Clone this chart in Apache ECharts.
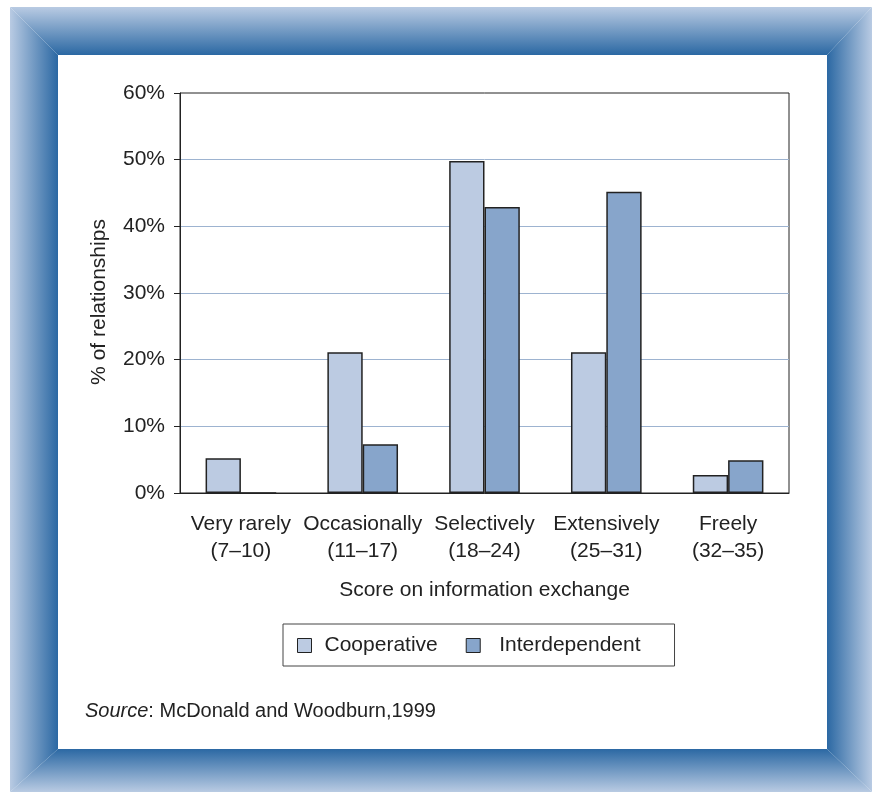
<!DOCTYPE html>
<html>
<head>
<meta charset="utf-8">
<script src="https://cdn.jsdelivr.net/npm/echarts@6/dist/echarts.min.js"></script>
<style>
  html, body { margin: 0; padding: 0; background: #fff; }
  #chart { width: 872px; height: 792px; }
</style>
</head>
<body>
<div id="chart"></div>
<script>
// data
var categories = ['Very rarely\n(7–10)', 'Occasionally\n(11–17)', 'Selectively\n(18–24)', 'Extensively\n(25–31)', 'Freely\n(32–35)']
var cooperative = [5.2, 21.1, 49.8, 21.1, 2.7]
var interdependent = [0, 7.3, 42.9, 45.2, 4.9]
var yTicks = [0, 60, 10]   // min, max, step

var font = "'Liberation Sans', Arial, Helvetica, sans-serif"
var ink = '#222'
var light = '#b9cbe3', dark = '#2b68a3'

function grad(x, y, x2, y2) {
  return new echarts.graphic.LinearGradient(x, y, x2, y2, [
    { offset: 0, color: light },
    { offset: 1, color: dark }
  ])
}

var chart = echarts.init(document.getElementById('chart'))

chart.setOption({
  animation: false,
  backgroundColor: '#fff',
  textStyle: { fontFamily: font, color: ink },
  graphic: [
    // bevelled blue frame
    { type: 'polygon', silent: true, z: -10,
      shape: { points: [[10, 7], [872, 7], [827, 55], [58, 55]] },
      style: { fill: grad(0, 0, 0, 1) } },
    { type: 'polygon', silent: true, z: -10,
      shape: { points: [[10, 7], [58, 55], [58, 749], [10, 792]] },
      style: { fill: grad(0, 0, 1, 0) } },
    { type: 'polygon', silent: true, z: -10,
      shape: { points: [[872, 7], [872, 792], [827, 749], [827, 55]] },
      style: { fill: grad(1, 0, 0, 0) } },
    { type: 'polygon', silent: true, z: -10,
      shape: { points: [[10, 792], [58, 749], [827, 749], [872, 792]] },
      style: { fill: grad(0, 1, 0, 0) } },
    {
      type: 'text', left: 85, top: 701,
      style: {
        text: '{i|Source}: McDonald and Woodburn,1999',
        font: '20px ' + font, fill: ink,
        rich: { i: { fontStyle: 'italic', fontSize: 20, fontFamily: font, fill: ink } }
      }
    }
  ],
  grid: {
    left: 180, right: 83, top: 93, bottom: 299,
    show: true, borderColor: ink, borderWidth: 1
  },
  legend: {
    left: 283, top: 624,
    padding: [11, 34, 10, 14],
    borderColor: '#444', borderWidth: 1,
    itemWidth: 14, itemHeight: 14, itemGap: 28,
    icon: 'rect',
    itemStyle: { borderColor: ink, borderWidth: 1 },
    textStyle: { fontSize: 21, color: ink, fontFamily: font, padding: [0, 0, 0, 8] },
    data: [
      { name: 'Cooperative' },
      { name: 'Interdependent', textStyle: { padding: [0, 0, 0, 14] } }
    ]
  },
  xAxis: {
    type: 'category',
    data: categories,
    name: 'Score on information exchange',
    nameLocation: 'middle',
    nameGap: 87,
    nameTextStyle: { fontSize: 21, color: ink },
    axisLine: { lineStyle: { color: ink, width: 1 } },
    axisTick: { length: 6, lineStyle: { color: ink } },
    axisLabel: { fontSize: 21, color: ink, lineHeight: 27, margin: 18, interval: 0 }
  },
  yAxis: {
    type: 'value',
    min: yTicks[0], max: yTicks[1], interval: yTicks[2],
    name: '% of relationships',
    nameLocation: 'middle',
    nameGap: 70,
    nameTextStyle: { fontSize: 21, color: ink, padding: [0, 18, 0, 0] },
    axisLine: { show: true, lineStyle: { color: ink, width: 1 } },
    axisTick: { show: true, length: 6, lineStyle: { color: ink } },
    axisLabel: { fontSize: 21, color: ink, margin: 15, formatter: '{value}%' },
    splitLine: { show: true, showMinLine: false, showMaxLine: false, lineStyle: { color: '#9db3d0', width: 1 } }
  },
  series: [
    {
      name: 'Cooperative', type: 'bar', data: cooperative,
      barGap: '0%', barCategoryGap: '42%',
      itemStyle: { color: '#bccbe2', borderColor: ink, borderWidth: 1.5 }
    },
    {
      name: 'Interdependent', type: 'bar', data: interdependent,
      itemStyle: { color: '#87a5cb', borderColor: ink, borderWidth: 1.5 }
    }
  ]
})
</script>
</body>
</html>
